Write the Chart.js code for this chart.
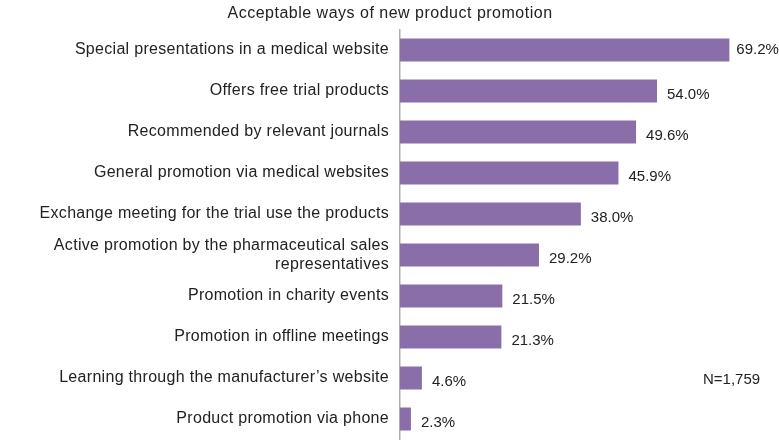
<!DOCTYPE html>
<html>
<head>
<meta charset="utf-8">
<script src="https://cdn.jsdelivr.net/npm/chart.js@4/dist/chart.umd.min.js"></script>
<style>
html,body{margin:0;padding:0;background:#fff;overflow:hidden;}
canvas{display:block;}
</style>
</head>
<body>
<canvas id="c" width="779" height="447"></canvas>
<script>
const categories = [
  "Special presentations in a medical website",
  "Offers free trial products",
  "Recommended by relevant journals",
  "General promotion via medical websites",
  "Exchange meeting for the trial use the products",
  ["Active promotion by the pharmaceutical sales", "representatives"],
  "Promotion in charity events",
  "Promotion in offline meetings",
  "Learning through the manufacturer\u2019s website",
  "Product promotion via phone"
];
const values = [69.2, 54.0, 49.6, 45.9, 38.0, 29.2, 21.5, 21.3, 4.6, 2.3];
const titleText = "Acceptable ways of new product promotion";
const noteText = "N=1,759";

const FONT = "'Liberation Sans', Arial, Helvetica, sans-serif";
const TEXT = "#222";

const spacingPlugin = {
  id: 'spacing',
  beforeUpdate(chart) { chart.ctx.letterSpacing = '0.3px'; },
  beforeLayout(chart) { chart.ctx.letterSpacing = '0.3px'; },
  beforeDraw(chart) { chart.ctx.letterSpacing = '0.3px'; }
};

const labelPlugin = {
  id: 'valueLabels',
  afterDatasetsDraw(chart) {
    const ctx = chart.ctx;
    const meta = chart.getDatasetMeta(0);
    ctx.save();
    ctx.letterSpacing = '0px';
    ctx.font = "15px " + FONT;
    ctx.fillStyle = TEXT;
    ctx.textBaseline = 'middle';
    ctx.textAlign = 'left';
    meta.data.forEach((bar, i) => {
      ctx.fillText(values[i].toFixed(1) + '%', bar.x + (i === 0 ? 7 : 10), bar.y + (i === 0 ? 0 : 4));
    });
    ctx.fillText(noteText, 703, 380);
    ctx.letterSpacing = '0.5px';
    ctx.font = "16px " + FONT;
    ctx.textAlign = 'center';
    ctx.fillText(titleText, 390, 14);
    ctx.restore();
  }
};

new Chart(document.getElementById('c'), {
  type: 'bar',
  data: {
    labels: categories,
    datasets: [{
      data: values,
      backgroundColor: '#8a6eaa',
      borderWidth: 0,
      barPercentage: 0.9,
      categoryPercentage: 0.63
    }]
  },
  options: {
    indexAxis: 'y',
    responsive: false,
    animation: false,
    devicePixelRatio: 1,
    layout: { padding: { left: 0, right: 3, top: 29.5, bottom: 7.5 } },
    plugins: {
      legend: { display: false },
      tooltip: { enabled: false },
      title: { display: false }
    },
    scales: {
      x: {
        min: 0, max: 79,
        display: false,
        grid: { display: false }
      },
      y: {
        afterFit(scale) { scale.width = 400; scale.paddingTop = 0; scale.paddingBottom = 0; },
        grid: { display: false, drawTicks: false },
        border: { display: true, color: '#b0b0b0', width: 1.5 },
        ticks: {
          color: TEXT,
          padding: 11,
          font: { family: FONT, size: 16, lineHeight: 1.15 }
        }
      }
    }
  },
  plugins: [spacingPlugin, labelPlugin]
});
</script>
</body>
</html>
